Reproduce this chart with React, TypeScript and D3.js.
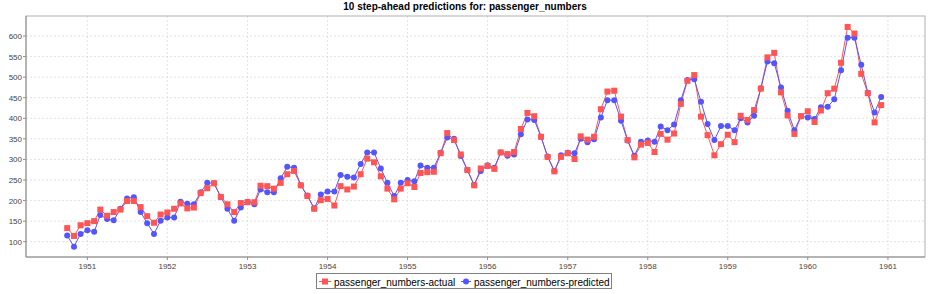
import React from "react";
import * as d3 from "d3";

const W = 930;
const H = 294;
const TITLE = "10 step-ahead predictions for: passenger_numbers";
const SERIES_NAMES = ["passenger_numbers-actual", "passenger_numbers-predicted"];
const SERIES_COLORS = ["#ff5555", "#5555ff"];

// first observation: October 1950, monthly
const START_YEAR = 1950;
const START_MONTH = 9;

const actual = [
  133, 114, 140,
  145, 150, 178, 163, 172, 178, 199, 199, 184, 162, 146, 166,
  171, 180, 193, 181, 183, 218, 230, 242, 209, 191, 172, 194,
  196, 196, 236, 235, 229, 243, 264, 272, 237, 211, 180, 201,
  204, 188, 235, 227, 234, 264, 302, 293, 259, 229, 203, 229,
  242, 233, 267, 269, 270, 315, 364, 347, 312, 274, 237, 278,
  284, 277, 317, 313, 318, 374, 413, 405, 355, 306, 271, 306,
  315, 301, 356, 348, 355, 422, 465, 467, 404, 347, 305, 336,
  340, 318, 362, 348, 363, 435, 491, 505, 404, 359, 310, 337,
  360, 342, 406, 396, 420, 472, 548, 559, 463, 407, 362, 405,
  417, 391, 419, 461, 472, 535, 622, 606, 508, 461, 390, 432,
];

const predicted = [
  115, 88, 119,
  128, 124, 165, 155, 152, 180, 205, 208, 172, 145, 119, 151,
  159, 159, 197, 192, 191, 220, 243, 242, 208, 180, 151, 183,
  197, 191, 227, 220, 220, 254, 282, 280, 237, 212, 181, 215,
  222, 222, 262, 258, 256, 289, 317, 317, 278, 243, 211, 243,
  250, 247, 285, 280, 280, 316, 353, 350, 308, 274, 238, 272,
  286, 280, 317, 309, 312, 361, 397, 396, 355, 307, 272, 310,
  316, 315, 350, 342, 349, 402, 444, 444, 394, 346, 309, 343,
  346, 343, 380, 371, 385, 444, 493, 495, 440, 386, 347, 381,
  381, 371, 400, 390, 406, 473, 538, 534, 475, 418, 371, 405,
  402, 398, 427, 428, 446, 517, 596, 596, 530, 462, 414, 452,
];

const yTicks = [100, 150, 200, 250, 300, 350, 400, 450, 500, 550, 600];
const xTickYears = [1951, 1952, 1953, 1954, 1955, 1956, 1957, 1958, 1959, 1960, 1961];

const dates = actual.map((_, i) => new Date(START_YEAR, START_MONTH + i, 1));

export default function App() {
  const left = 26, right = 925, top = 16, bottom = 257;
  const x = d3
    .scaleTime()
    .domain([new Date(1950, 2, 27), new Date(1961, 5, 19)])
    .range([left, right]);
  const y = d3.scaleLinear().domain([62.8, 648.6]).range([bottom, top]);

  const line = d3
    .line<number>()
    .x((_, i) => x(dates[i]))
    .y((d) => y(d));

  const font = "'Liberation Sans', Arial, sans-serif";
  const series = [actual, predicted];

  return (
    <svg
      width={W}
      height={H}
      style={{ position: "absolute", left: 0, top: 0, display: "block", background: "#fff" }}
      fontFamily={font}
    >
      <rect x={0} y={0} width={W} height={H} fill="#fff" />
      <text x={W / 2} y={10} textAnchor="middle" fontSize={10} fontWeight="bold" fill="#000">
        {TITLE}
      </text>

      {/* gridlines */}
      {yTicks.map((t) => (
        <line
          key={"gy" + t}
          x1={left}
          x2={right}
          y1={y(t)}
          y2={y(t)}
          stroke="#d0d0d0"
          strokeWidth={0.6}
          strokeDasharray="2,2"
        />
      ))}
      {xTickYears.map((t) => (
        <line
          key={"gx" + t}
          x1={x(new Date(t, 0, 1))}
          x2={x(new Date(t, 0, 1))}
          y1={top}
          y2={bottom}
          stroke="#d0d0d0"
          strokeWidth={0.6}
          strokeDasharray="2,2"
        />
      ))}

      {/* outline */}
      <rect x={left} y={top} width={right - left} height={bottom - top} fill="none" stroke="#b0b0b0" strokeWidth={1} />
      <line x1={left} x2={left} y1={top} y2={bottom} stroke="#909090" />
      <line x1={left} x2={right} y1={bottom} y2={bottom} stroke="#909090" />

      {/* y ticks */}
      {yTicks.map((t) => (
        <g key={"ty" + t}>
          <line x1={left - 3} x2={left} y1={y(t)} y2={y(t)} stroke="#909090" />
          <text x={left - 4} y={y(t) + 3} textAnchor="end" fontSize={8} fill="#444">
            {t}
          </text>
        </g>
      ))}
      {/* x ticks */}
      {xTickYears.map((t) => {
        const xx = x(new Date(t, 0, 1));
        return (
          <g key={"tx" + t}>
            <line x1={xx} x2={xx} y1={bottom} y2={bottom + 3} stroke="#909090" />
            <text x={xx} y={269} textAnchor="middle" fontSize={8} fill="#444">
              {t}
            </text>
          </g>
        );
      })}

      {/* lines */}
      {series.map((s, k) => (
        <path key={"l" + k} d={line(s) || ""} fill="none" stroke={SERIES_COLORS[k]} strokeWidth={1} />
      ))}
      {/* shapes: predicted first, actual on top */}
      {predicted.map((v, i) => (
        <circle key={"p" + i} cx={x(dates[i])} cy={y(v)} r={3} fill={SERIES_COLORS[1]} />
      ))}
      {actual.map((v, i) => (
        <rect key={"a" + i} x={x(dates[i]) - 3} y={y(v) - 3} width={6} height={6} fill={SERIES_COLORS[0]} />
      ))}

      {/* legend */}
      <rect x={316.5} y={273.5} width={295} height={15} fill="#fff" stroke="#808080" strokeWidth={1} />
      <line x1={319} x2={331} y1={281.5} y2={281.5} stroke={SERIES_COLORS[0]} />
      <rect x={322} y={278.5} width={6} height={6} fill={SERIES_COLORS[0]} />
      <text x={334} y={285.5} fontSize={10} fill="#000">
        {SERIES_NAMES[0]}
      </text>
      <line x1={461} x2={471} y1={281.5} y2={281.5} stroke={SERIES_COLORS[1]} />
      <circle cx={466} cy={281.5} r={3} fill={SERIES_COLORS[1]} />
      <text x={474} y={285.5} fontSize={10} fill="#000">
        {SERIES_NAMES[1]}
      </text>
    </svg>
  );
}
